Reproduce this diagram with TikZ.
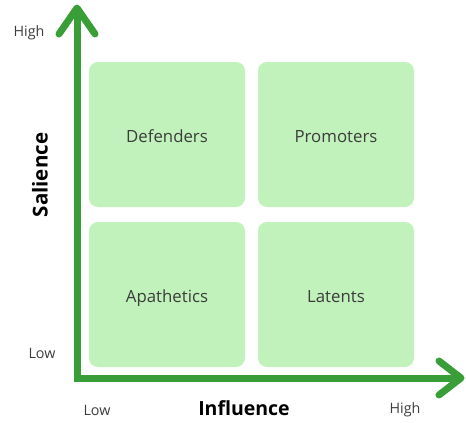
\documentclass[tikz,border=0pt]{standalone}
\usepackage{fontspec}
\setmainfont{Open Sans}
\usetikzlibrary{calc}
\definecolor{axisgreen}{RGB}{58,158,56}
\definecolor{boxgreen}{RGB}{193,242,187}
\definecolor{txt}{RGB}{60,60,60}
\begin{document}
\begin{tikzpicture}[x=1pt,y=-1pt,
  quad/.style={fill=boxgreen,rounded corners=9pt,minimum width=156pt,minimum height=145pt,inner sep=0pt,text height=15pt,text depth=0pt,text=txt,font=\fontsize{16.8}{20}\selectfont},
  axislbl/.style={text=txt,font=\fontsize{14.3}{17}\selectfont,inner sep=0pt},
  axistitle/.style={text=black,font=\bfseries\fontsize{19.5}{23}\selectfont,inner sep=0pt},
  axisline/.style={draw=axisgreen,line width=7pt},
  head/.style={draw=axisgreen,line width=7pt,line cap=round,line join=round}]
\useasboundingbox (0,0) rectangle (466,423);
\node[quad] (def) at (167,134.5) {Defenders};
\node[quad] (pro) at (336,134.5) {Promoters};
\node[quad] (apa) at (167,294.5) {Apathetics};
\node[quad] (lat) at (336,294.5) {Latents};
\coordinate (ytip) at (77,8);
\coordinate (origin) at (77,378);
\coordinate (xtip) at (461,378);
\draw[axisline] (ytip) -- (origin) -- (xtip);
\draw[head] ($(ytip)+(-18,26)$) -- (ytip) -- ($(ytip)+(18,26)$);
\draw[head] ($(xtip)+(-22,-17)$) -- (xtip) -- ($(xtip)+(-22,17)$);
\node[axislbl] (yhigh) at (29,33) {High};
\node[axislbl] (ylow) at (42,353) {Low};
\node[axislbl] (xlow) at (97,410) {Low};
\node[axislbl] (xhigh) at (405,410) {High};
\node[axistitle] (xt) at (244,408) {Influence};
\node[axistitle,font=\bfseries\fontsize{20.5}{24}\selectfont,rotate=90] (yt) at (40,175) {Salience};
\end{tikzpicture}
\end{document}
